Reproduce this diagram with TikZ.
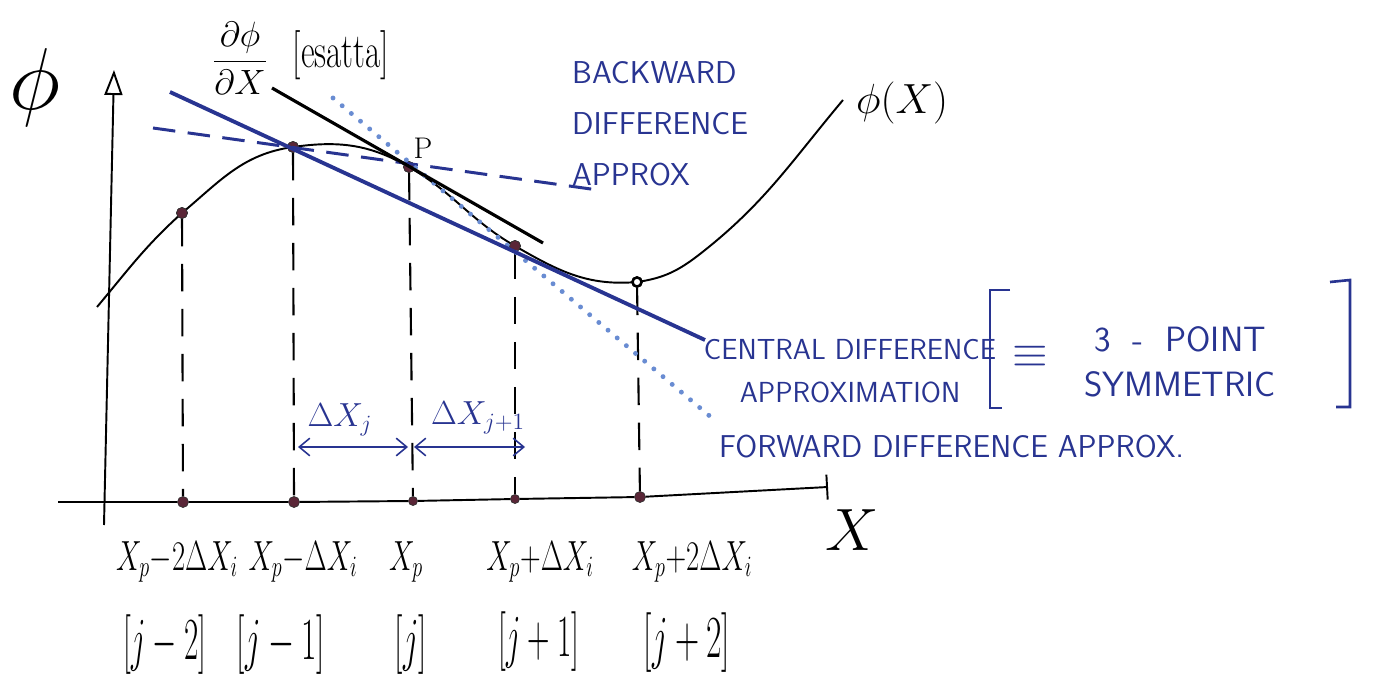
\RequirePackage{fix-cm}
\documentclass[tikz,border=0pt]{standalone}
\usepackage{graphicx}
\usepackage{tikz}
\usetikzlibrary{arrows.meta,positioning}

\definecolor{ink}{RGB}{40,52,145}
\definecolor{inklight}{RGB}{105,140,210}
\definecolor{dotc}{RGB}{90,38,55}
\newcommand{\hsq}[2][0.68]{\scalebox{#1}[1]{#2}}

\begin{document}
\begin{tikzpicture}[x=0.02cm, y=-0.02cm,
    axisline/.style={line width=1.1pt},
    phicurve/.style={line width=1.1pt},
    gridline/.style={line width=1.2pt, dash pattern=on 0.55cm off 0.35cm},
    exacttan/.style={line width=1.8pt},
    centraltan/.style={ink, line width=2.2pt},
    backtan/.style={ink, line width=1.7pt, dash pattern=on 0.45cm off 0.25cm},
    fwdtan/.style={inklight, line width=2.8pt, line cap=round, dash pattern=on 0pt off 0.24cm},
    gridpt/.style={circle, fill=dotc, draw=black!80, inner sep=0pt, minimum size=0.22cm},
    hollowpt/.style={circle, fill=white, draw=black, line width=1.4pt, inner sep=0pt, minimum size=0.18cm},
    bluetext/.style={ink, font=\sffamily\fontsize{18}{29}\selectfont},
    xlabel/.style={font=\fontsize{24}{28}\selectfont},
    jlabel/.style={font=\fontsize{34}{38}\selectfont},
    dxarrow/.style={{Straight Barb[length=6pt,width=10pt]}-{Straight Barb[length=6pt,width=10pt]}, ink, line width=0.9pt}
]
\useasboundingbox (0,0) rectangle (1384,686);

% Axes
\coordinate (O) at (104,525);
\coordinate (ytop) at (114,70);
\draw[axisline, -{Triangle[open, length=0.5cm, width=0.36cm]}] (O) -- (ytop);

\node[gridpt] (a1) at (183,502) {};
\node[gridpt] (a2) at (294,502) {};
\node[gridpt, minimum size=0.18cm] (a3) at (413,501) {};
\node[gridpt, minimum size=0.18cm] (a4) at (515,499) {};
\node[gridpt] (a5) at (640,497) {};
\coordinate (xl) at (58,502);
\coordinate (xr) at (828,487);
\draw[axisline, -{Bar[width=0.5cm, line width=1.1pt]}] (xl) -- (a1) -- (a2) -- (a3) -- (a4) -- (a5) -- (xr);

\node[font=\fontsize{50}{54}\selectfont] (phiy) at (35,88) {$\phi$};
\node[font=\fontsize{34}{38}\selectfont] (xax) at (852,530) {$X$};

% Curve phi(x) and grid points
\node[gridpt] (pjm2) at (182,213) {};
\node[gridpt] (pjm1) at (293,147) {};
\node[gridpt] (pj) at (409,167) {};
\node[gridpt] (pjp1) at (515,246) {};
\node[hollowpt] (pjp2) at (637,282) {};
\coordinate (cstart) at (97,307);
\coordinate (cmid) at (700,254);
\coordinate (cend) at (843,100);

\draw[phicurve] (cstart) to[out=50, in=-138] (pjm2.center)
    to[out=40, in=188] (pjm1.center)
    to[out=8, in=150] (pj.center)
    to[out=-30, in=150] (pjp1.center)
    to[out=-30, in=185] (pjp2.center)
    to[out=8, in=-142] (cmid)
    to[out=38, in=230] (cend);
\node[gridpt] at (pjm2) {};
\node[gridpt] at (pjm1) {};
\node[gridpt] at (pj) {};
\node[gridpt] at (pjp1) {};
\node[hollowpt] at (pjp2) {};

\node[font=\fontsize{24}{28}\selectfont, anchor=west] (phix) at (850,103) {$\phi(X)$};
\node[font=\fontsize{17}{20}\selectfont] (plab) at (423,148) {P};

% Vertical grid lines
\draw[gridline] (pjm2) -- (a1);
\draw[gridline] (pjm1) -- (a2);
\draw[gridline] (pj) -- (a3);
\draw[gridline] (pjp1) -- (a4);
\draw[gridline] (pjp2) -- (a5);

% Tangent and difference lines
\coordinate (exA) at (272,88);
\coordinate (exB) at (543,243);
\coordinate (ceA) at (170,92);
\coordinate (ceB) at (705,340);
\coordinate (bkA) at (153,128);
\coordinate (bkB) at (598,190);
\coordinate (fwA) at (333,98);
\coordinate (fwB) at (712,418);
\draw[backtan] (bkA) -- (bkB);
\draw[fwdtan] (fwA) -- (fwB);
\draw[centraltan] (ceA) -- (ceB);
\draw[exacttan] (exA) -- (exB);

\node[font=\fontsize{20}{24}\selectfont] (dphi) at (240,58) {$\displaystyle\frac{\partial\phi}{\partial X}$};
\node[font=\fontsize{28}{32}\selectfont] (esatta) at (341,55) {\hsq{[esatta]}};

% Blue labels
\node[bluetext, align=left, anchor=west] (bwd) at (566,124) {BACKWARD\\DIFFERENCE\\APPROX};
\node[bluetext, align=center, font=\sffamily\fontsize{16.5}{24.5}\selectfont] (cen) at (850,371) {CENTRAL DIFFERENCE\\APPROXIMATION};
\node[ink, font=\fontsize{26}{30}\selectfont] (equiv) at (1030,357) {$\equiv$};
\node[bluetext, align=center, font=\sffamily\fontsize{20}{25.5}\selectfont] (sym) at (1180,362) {3 \ - \ POINT\\SYMMETRIC};
\draw[ink, line width=1.5pt] (1010,290) -- (990,290) -- (990,408) -- (1002,408);
\draw[ink, line width=1.5pt] (1330,282) -- (1350,280) -- (1350,407) -- (1336,407);
\node[bluetext, anchor=west] (fwd) at (713,447) {FORWARD DIFFERENCE APPROX.};

% Spacing arrows
\coordinate (dA) at (298,447);
\coordinate (dB) at (408,447);
\coordinate (dC) at (414,447);
\coordinate (dD) at (525,447);
\draw[dxarrow] (dA) -- (dB);
\draw[dxarrow] (dC) -- (dD);
\node[ink, font=\fontsize{19}{22}\selectfont] (dxj) at (340,420) {$\Delta X_j$};
\node[ink, font=\fontsize{19}{22}\selectfont] (dxjj) at (478,418) {$\Delta X_{j+1}$};

% Point labels
\node[xlabel] (lx1) at (177,562) {\hsq{$X_p{-}2\Delta X_i$}};
\node[xlabel] (lx2) at (303,562) {\hsq{$X_p{-}\Delta X_i$}};
\node[xlabel] (lx3) at (406,562) {\hsq{$X_p$}};
\node[xlabel] (lx4) at (540,562) {\hsq{$X_p{+}\Delta X_i$}};
\node[xlabel] (lx5) at (692,562) {\hsq{$X_p{+}2\Delta X_i$}};

\node[jlabel] (lj1) at (165,645) {\hsq[0.52]{$[j-2]$}};
\node[jlabel] (lj2) at (281,645) {\hsq[0.56]{$[j-1]$}};
\node[jlabel] (lj3) at (411,645) {\hsq[0.56]{$[j]$}};
\node[jlabel] (lj4) at (539,642) {\hsq[0.52]{$[j+1]$}};
\node[jlabel] (lj5) at (687,643) {\hsq[0.56]{$[j+2]$}};

\end{tikzpicture}
\end{document}
